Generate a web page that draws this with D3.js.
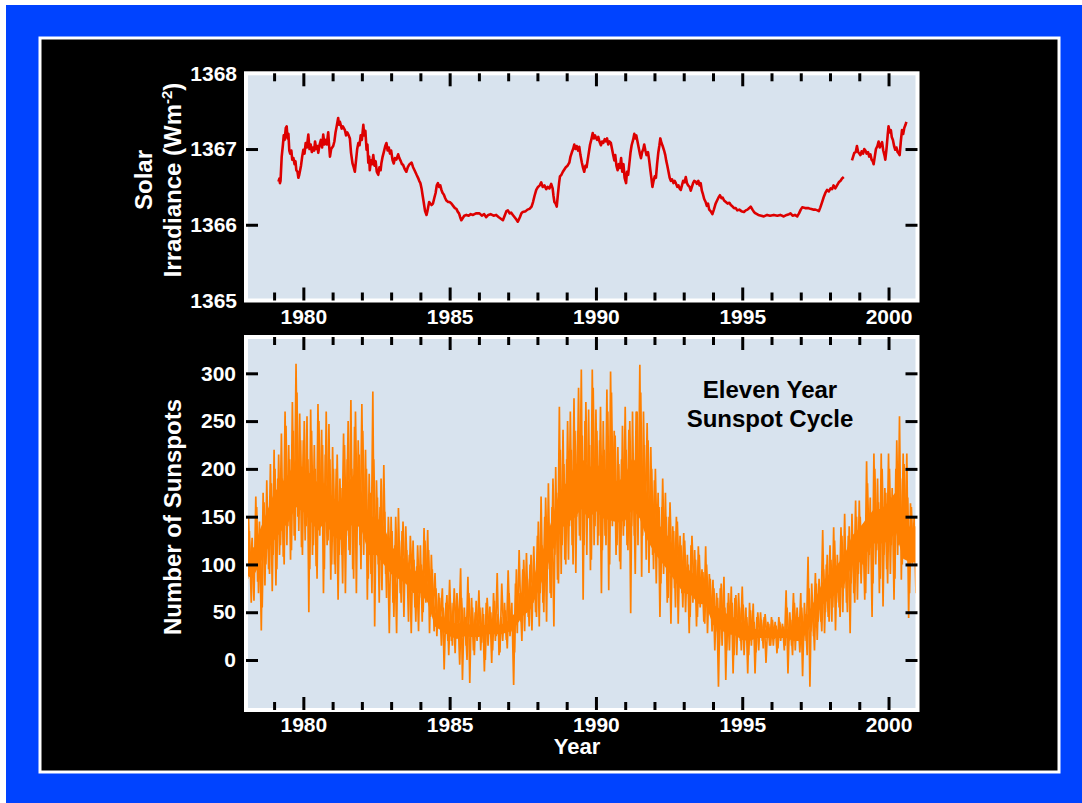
<!DOCTYPE html>
<html>
<head>
<meta charset="utf-8">
<script src="https://d3js.org/d3.v7.min.js"></script>
<style>
  body { margin: 0; background: #fff; }
  text { font-family: "Liberation Sans", Arial, sans-serif; font-weight: bold; }
  .tick line { stroke: #000; stroke-width: 3; }
</style>
</head>
<body>
<div class="chart"></div>
<script>
// Solar irradiance readings [year, W/m^2]; null marks the data gap in 1998
var irradiance = [
  [1979.15, 1366.57], [1979.18, 1366.61], [1979.20, 1366.55], [1979.22, 1366.58], [1979.26, 1366.90],
  [1979.30, 1367.05], [1979.33, 1367.18], [1979.36, 1367.12], [1979.40, 1367.28], [1979.43, 1367.30],
  [1979.46, 1367.14], [1979.49, 1367.20], [1979.52, 1366.98], [1979.55, 1366.94], [1979.59, 1366.98],
  [1979.62, 1366.86], [1979.66, 1366.88], [1979.70, 1366.80], [1979.73, 1366.84], [1979.76, 1366.72],
  [1979.80, 1366.70], [1979.83, 1366.62], [1979.86, 1366.66], [1979.89, 1366.72], [1979.92, 1366.78],
  [1979.96, 1366.90], [1980.00, 1366.99], [1980.04, 1366.94], [1980.08, 1367.08], [1980.12, 1367.02],
  [1980.17, 1367.19], [1980.21, 1367.00], [1980.25, 1367.06], [1980.29, 1366.96], [1980.33, 1367.02],
  [1980.37, 1366.98], [1980.40, 1367.10], [1980.44, 1367.00], [1980.48, 1367.04], [1980.51, 1366.95],
  [1980.55, 1367.05], [1980.60, 1367.12], [1980.64, 1367.02], [1980.68, 1367.19], [1980.72, 1367.06],
  [1980.76, 1367.12], [1980.80, 1367.06], [1980.85, 1367.22], [1980.88, 1367.05], [1980.91, 1366.90],
  [1980.95, 1367.00], [1981.02, 1367.04], [1981.06, 1367.10], [1981.10, 1367.22], [1981.14, 1367.30],
  [1981.19, 1367.41], [1981.22, 1367.32], [1981.25, 1367.36], [1981.31, 1367.27], [1981.35, 1367.30],
  [1981.42, 1367.25], [1981.46, 1367.18], [1981.50, 1367.22], [1981.55, 1367.18], [1981.59, 1367.14],
  [1981.63, 1366.95], [1981.68, 1366.81], [1981.72, 1366.76], [1981.76, 1366.70], [1981.80, 1366.85],
  [1981.84, 1367.00], [1981.88, 1367.08], [1981.92, 1367.05], [1981.96, 1367.18], [1982.00, 1367.12],
  [1982.05, 1367.32], [1982.08, 1367.18], [1982.12, 1367.24], [1982.16, 1366.99], [1982.19, 1367.06],
  [1982.22, 1366.82], [1982.25, 1366.90], [1982.27, 1366.72], [1982.31, 1366.85], [1982.35, 1366.80],
  [1982.39, 1366.92], [1982.43, 1366.78], [1982.47, 1366.84], [1982.51, 1366.70], [1982.56, 1366.66],
  [1982.60, 1366.76], [1982.64, 1366.72], [1982.67, 1366.82], [1982.71, 1366.90], [1982.75, 1366.96],
  [1982.80, 1367.04], [1982.84, 1367.08], [1982.88, 1366.98], [1982.92, 1367.02], [1982.96, 1366.94],
  [1983.00, 1366.98], [1983.05, 1366.85], [1983.09, 1366.81], [1983.13, 1366.88], [1983.18, 1366.86],
  [1983.24, 1366.93], [1983.28, 1366.88], [1983.33, 1366.84], [1983.37, 1366.80], [1983.41, 1366.79],
  [1983.46, 1366.74], [1983.52, 1366.70], [1983.57, 1366.76], [1983.63, 1366.80], [1983.70, 1366.82],
  [1983.75, 1366.76], [1983.80, 1366.72], [1983.87, 1366.66], [1983.92, 1366.62], [1983.96, 1366.58],
  [1984.00, 1366.55], [1984.04, 1366.48], [1984.08, 1366.38], [1984.12, 1366.28], [1984.16, 1366.18],
  [1984.21, 1366.13], [1984.24, 1366.18], [1984.27, 1366.24], [1984.30, 1366.30], [1984.34, 1366.28],
  [1984.38, 1366.26], [1984.43, 1366.28], [1984.48, 1366.36], [1984.52, 1366.42], [1984.56, 1366.52],
  [1984.60, 1366.55], [1984.64, 1366.50], [1984.68, 1366.52], [1984.72, 1366.46], [1984.76, 1366.42],
  [1984.80, 1366.40], [1984.85, 1366.35], [1984.89, 1366.32], [1984.95, 1366.30], [1985.00, 1366.30],
  [1985.06, 1366.28], [1985.12, 1366.25], [1985.18, 1366.22], [1985.23, 1366.21], [1985.28, 1366.17],
  [1985.32, 1366.15], [1985.36, 1366.10], [1985.40, 1366.06], [1985.45, 1366.09], [1985.50, 1366.12],
  [1985.57, 1366.13], [1985.65, 1366.12], [1985.72, 1366.14], [1985.80, 1366.13], [1985.90, 1366.15],
  [1986.02, 1366.15], [1986.10, 1366.12], [1986.18, 1366.14], [1986.25, 1366.10], [1986.32, 1366.13],
  [1986.40, 1366.14], [1986.50, 1366.12], [1986.59, 1366.13], [1986.68, 1366.10], [1986.75, 1366.08],
  [1986.82, 1366.06], [1986.88, 1366.12], [1986.94, 1366.18], [1986.99, 1366.19], [1987.05, 1366.15],
  [1987.10, 1366.16], [1987.16, 1366.13], [1987.22, 1366.10], [1987.28, 1366.07], [1987.33, 1366.04],
  [1987.40, 1366.10], [1987.45, 1366.15], [1987.50, 1366.17], [1987.60, 1366.18], [1987.66, 1366.20],
  [1987.73, 1366.21], [1987.80, 1366.24], [1987.85, 1366.30], [1987.90, 1366.38], [1987.96, 1366.46],
  [1988.02, 1366.50], [1988.08, 1366.52], [1988.13, 1366.56], [1988.18, 1366.50], [1988.24, 1366.52],
  [1988.30, 1366.47], [1988.35, 1366.50], [1988.41, 1366.48], [1988.47, 1366.54], [1988.52, 1366.48],
  [1988.55, 1366.38], [1988.58, 1366.30], [1988.62, 1366.28], [1988.66, 1366.24], [1988.70, 1366.40],
  [1988.74, 1366.55], [1988.77, 1366.64], [1988.82, 1366.66], [1988.87, 1366.70], [1988.92, 1366.73],
  [1988.97, 1366.76], [1989.03, 1366.78], [1989.09, 1366.82], [1989.13, 1366.90], [1989.18, 1366.96],
  [1989.22, 1367.00], [1989.26, 1367.06], [1989.30, 1367.00], [1989.34, 1367.04], [1989.39, 1366.98],
  [1989.43, 1367.03], [1989.47, 1366.92], [1989.52, 1366.82], [1989.56, 1366.75], [1989.60, 1366.70],
  [1989.64, 1366.78], [1989.68, 1366.76], [1989.72, 1366.86], [1989.76, 1366.96], [1989.80, 1367.06],
  [1989.84, 1367.12], [1989.89, 1367.21], [1989.93, 1367.14], [1989.97, 1367.18], [1990.00, 1367.15],
  [1990.04, 1367.12], [1990.08, 1367.16], [1990.12, 1367.10], [1990.17, 1367.05], [1990.21, 1367.10],
  [1990.25, 1367.08], [1990.30, 1367.13], [1990.34, 1367.10], [1990.38, 1367.14], [1990.42, 1367.06],
  [1990.46, 1367.10], [1990.51, 1367.08], [1990.55, 1367.00], [1990.59, 1366.92], [1990.63, 1366.85],
  [1990.66, 1366.92], [1990.70, 1366.78], [1990.74, 1366.72], [1990.78, 1366.80], [1990.82, 1366.75],
  [1990.86, 1366.88], [1990.90, 1366.70], [1990.94, 1366.80], [1990.98, 1366.62], [1991.03, 1366.55],
  [1991.06, 1366.70], [1991.10, 1366.66], [1991.14, 1366.80], [1991.18, 1366.95], [1991.22, 1367.05],
  [1991.27, 1367.12], [1991.31, 1367.20], [1991.35, 1367.14], [1991.38, 1367.18], [1991.42, 1367.10],
  [1991.46, 1367.02], [1991.50, 1366.94], [1991.54, 1366.88], [1991.58, 1366.96], [1991.62, 1367.00],
  [1991.65, 1367.06], [1991.69, 1366.98], [1991.73, 1366.92], [1991.78, 1366.96], [1991.82, 1366.85],
  [1991.86, 1366.72], [1991.90, 1366.60], [1991.93, 1366.50], [1991.97, 1366.58], [1992.01, 1366.64],
  [1992.05, 1366.62], [1992.09, 1366.80], [1992.13, 1366.95], [1992.17, 1367.05], [1992.20, 1367.14],
  [1992.24, 1367.08], [1992.28, 1367.04], [1992.33, 1366.98], [1992.37, 1366.92], [1992.40, 1366.85],
  [1992.44, 1366.78], [1992.48, 1366.70], [1992.52, 1366.62], [1992.56, 1366.58], [1992.60, 1366.60],
  [1992.65, 1366.55], [1992.69, 1366.58], [1992.73, 1366.55], [1992.78, 1366.50], [1992.82, 1366.52],
  [1992.86, 1366.48], [1992.90, 1366.46], [1992.94, 1366.52], [1992.98, 1366.58], [1993.03, 1366.56],
  [1993.07, 1366.63], [1993.11, 1366.55], [1993.15, 1366.52], [1993.20, 1366.50], [1993.24, 1366.45],
  [1993.28, 1366.50], [1993.32, 1366.55], [1993.36, 1366.58], [1993.41, 1366.57], [1993.45, 1366.54],
  [1993.50, 1366.58], [1993.54, 1366.52], [1993.58, 1366.55], [1993.62, 1366.45], [1993.66, 1366.40],
  [1993.70, 1366.34], [1993.75, 1366.30], [1993.79, 1366.25], [1993.83, 1366.28], [1993.87, 1366.20],
  [1993.92, 1366.18], [1993.98, 1366.14], [1994.03, 1366.20], [1994.09, 1366.28], [1994.14, 1366.32],
  [1994.19, 1366.36], [1994.24, 1366.39], [1994.29, 1366.35], [1994.33, 1366.36], [1994.38, 1366.32],
  [1994.44, 1366.30], [1994.50, 1366.28], [1994.56, 1366.29], [1994.61, 1366.26], [1994.67, 1366.24],
  [1994.72, 1366.22], [1994.78, 1366.22], [1994.83, 1366.19], [1994.90, 1366.20], [1994.97, 1366.18],
  [1995.06, 1366.17], [1995.12, 1366.19], [1995.18, 1366.20], [1995.24, 1366.22], [1995.29, 1366.24],
  [1995.35, 1366.20], [1995.40, 1366.17], [1995.46, 1366.15], [1995.55, 1366.13], [1995.65, 1366.12],
  [1995.74, 1366.11], [1995.85, 1366.13], [1995.95, 1366.12], [1996.08, 1366.13], [1996.20, 1366.12],
  [1996.30, 1366.13], [1996.42, 1366.11], [1996.52, 1366.13], [1996.60, 1366.14], [1996.65, 1366.15],
  [1996.72, 1366.12], [1996.80, 1366.13], [1996.88, 1366.11], [1996.94, 1366.15], [1997.00, 1366.20],
  [1997.05, 1366.23], [1997.15, 1366.22], [1997.25, 1366.22], [1997.33, 1366.21], [1997.42, 1366.20],
  [1997.50, 1366.20], [1997.57, 1366.19], [1997.62, 1366.18], [1997.67, 1366.23], [1997.73, 1366.30],
  [1997.78, 1366.36], [1997.84, 1366.42], [1997.90, 1366.46], [1997.96, 1366.44], [1998.02, 1366.48],
  [1998.07, 1366.47], [1998.12, 1366.52], [1998.18, 1366.48], [1998.24, 1366.52], [1998.30, 1366.56],
  [1998.36, 1366.58], [1998.41, 1366.61], [1998.47, 1366.63], [1998.60, null], [1998.75, 1366.85],
  [1998.79, 1366.90], [1998.83, 1366.95], [1998.88, 1366.96], [1998.92, 1367.04], [1998.96, 1366.96],
  [1999.00, 1366.94], [1999.04, 1366.92], [1999.08, 1366.97], [1999.13, 1366.94], [1999.17, 1367.00],
  [1999.21, 1366.98], [1999.25, 1366.94], [1999.30, 1366.96], [1999.34, 1366.90], [1999.38, 1366.93],
  [1999.42, 1366.86], [1999.46, 1366.84], [1999.49, 1366.80], [1999.53, 1366.90], [1999.57, 1367.00],
  [1999.62, 1367.04], [1999.66, 1367.10], [1999.70, 1367.02], [1999.74, 1367.06], [1999.78, 1367.09],
  [1999.82, 1366.98], [1999.86, 1366.92], [1999.89, 1366.86], [1999.93, 1367.00], [1999.97, 1367.18],
  [2000.00, 1367.30], [2000.04, 1367.22], [2000.08, 1367.25], [2000.11, 1367.16], [2000.15, 1367.12],
  [2000.19, 1367.04], [2000.23, 1366.99], [2000.27, 1367.02], [2000.31, 1366.96], [2000.35, 1366.94],
  [2000.38, 1366.92], [2000.42, 1367.10], [2000.46, 1367.25], [2000.50, 1367.20], [2000.54, 1367.28],
  [2000.58, 1367.32], [2000.61, 1367.36]
];

// Sunspot numbers, sixteen readings per year starting at 1978.0 (set A)
var spotStart = 1978;
var spotPerYear = 16;
var sunspotsA = [
  140, 70, 150, 92, 128, 62, 171, 82, 145, 31, 175, 78, 188, 95, 205, 72,
  220, 78, 190, 110, 237, 108, 260, 120, 225, 105, 270, 130, 310, 150, 258, 118,
  230, 125, 255, 50, 262, 110, 225, 98, 268, 130, 241, 70, 215, 120, 247, 84,
  223, 100, 200, 63, 190, 110, 237, 70, 210, 115, 272, 95, 244, 70, 230, 120,
  268, 110, 220, 63, 195, 90, 281, 35, 188, 100, 160, 73, 204, 90, 126, 28,
  150, 60, 120, 28, 159, 70, 135, 45, 140, 80, 110, 28, 125, 55, 98, 30,
  120, 40, 138, 60, 136, 28, 110, 50, 91, 25, 70, 40, 75, -10, 60, 20,
  84, 20, 60, 7, 70, 30, 96, -21, 55, 15, 87, -24, 65, 10, 50, 20,
  73, 10, 55, -12, 60, 15, 56, -3, 70, 20, 91, 5, 45, 20, 60, 21,
  94, 25, 60, -26, 80, 28, 115, 40, 95, 30, 112, 45, 100, 31, 119, 50,
  130, 35, 171, 60, 150, 40, 185, 70, 160, 35, 202, 84, 265, 90, 241, 105,
  210, 105, 260, 120, 274, 91, 240, 130, 304, 63, 250, 110, 262, 94, 304, 120,
  262, 120, 230, 70, 250, 130, 283, 73, 302, 140, 240, 110, 223, 103, 210, 130,
  265, 120, 241, 49, 260, 130, 260, 120, 309, 87, 260, 140, 248, 91, 223, 110,
  188, 80, 175, 45, 160, 90, 175, 60, 150, 38, 140, 75, 150, 38, 130, 70,
  133, 50, 110, 28, 120, 60, 115, 35, 119, 55, 95, 40, 119, 28, 90, 45,
  84, 10, 70, -28, 75, 15, 87, -21, 60, 10, 77, -14, 65, 5, 70, 20,
  77, 5, 55, -14, 60, 15, 59, -14, 45, 10, 50, 20, 45, -3, 40, 15,
  45, 15, 40, 7, 45, 20, 38, 10, 73, -14, 50, 15, 70, 10, 55, 20,
  70, -17, 60, 20, 108, -28, 80, 25, 91, 21, 85, 40, 136, 28, 100, 45,
  120, 40, 139, 31, 110, 55, 139, 50, 153, 60, 130, 28, 153, 70, 167, 63,
  167, 80, 140, 63, 208, 90, 170, 45, 216, 100, 190, 70, 216, 56, 180, 95,
  216, 90, 180, 63, 200, 110, 255, 84, 216, 120, 216, 44, 164, 100, 150, 70
];

// second set of sunspot readings, half a step later than set A
var sunspotsB = [
  125, 85, 135, 60, 118, 95, 160, 70, 120, 55, 165, 100, 150, 90, 185, 110,
  200, 95, 215, 120, 190, 100, 245, 140, 210, 115, 240, 125, 280, 135, 230, 110,
  250, 140, 210, 95, 240, 120, 200, 85, 250, 145, 225, 95, 260, 125, 210, 100,
  200, 90, 215, 110, 180, 80, 225, 130, 250, 110, 200, 85, 260, 140, 215, 95,
  240, 130, 200, 85, 175, 70, 210, 120, 170, 60, 190, 110, 155, 65, 150, 95,
  135, 45, 150, 85, 125, 60, 145, 80, 115, 40, 130, 85, 105, 40, 120, 65,
  100, 50, 125, 75, 115, 45, 95, 30, 75, 35, 65, 15, 55, 30, 68, 5,
  60, 15, 75, 35, 50, -5, 65, 25, 45, 0, 70, 30, 55, 5, 62, 28,
  55, 18, 48, 0, 65, 30, 50, 10, 62, 25, 48, 8, 80, 30, 52, 12,
  70, 30, 45, 8, 95, 40, 70, 20, 105, 50, 85, 35, 110, 60, 90, 45,
  145, 70, 120, 50, 170, 95, 140, 65, 190, 110, 175, 80, 220, 120, 205, 100,
  250, 140, 220, 100, 240, 150, 285, 125, 235, 120, 270, 155, 225, 105, 285, 140,
  240, 130, 265, 115, 220, 120, 260, 100, 280, 150, 235, 120, 205, 95, 245, 140,
  220, 115, 250, 140, 200, 90, 260, 150, 280, 130, 225, 105, 230, 130, 200, 95,
  200, 110, 160, 80, 190, 100, 150, 65, 165, 95, 135, 55, 145, 85, 120, 55,
  125, 70, 100, 45, 130, 80, 105, 45, 110, 60, 92, 38, 100, 55, 85, 30,
  75, 30, 65, 15, 80, 35, 55, 10, 70, 30, 60, 5, 68, 28, 55, 10,
  58, 25, 45, 5, 52, 22, 40, 8, 50, 25, 42, 12, 48, 25, 38, 15,
  42, 22, 36, 12, 40, 24, 35, 15, 55, 20, 42, 5, 60, 25, 45, 8,
  55, 20, 48, 5, 75, 30, 60, 10, 80, 40, 70, 30, 95, 50, 110, 40,
  105, 55, 125, 60, 100, 45, 130, 75, 115, 50, 140, 80, 125, 60, 150, 90,
  150, 100, 130, 70, 185, 110, 150, 80, 200, 115, 165, 85, 200, 110, 175, 80,
  200, 120, 170, 85, 230, 120, 190, 100, 205, 130, 170, 70, 160, 105, 140, 85
];

// dense core of the daily sunspot band, four readings per year from 1978.0 to 2001.0
var spotCorePerYear = 4;
var spotCoreLo = [
  90, 85, 100, 115,  125, 135, 145, 160,  155, 145, 135, 145,  130, 125, 135, 145,
  135, 110, 110, 100,  90, 85, 80, 70,  70, 60, 35, 30,  25, 22, 25, 24,
  24, 27, 27, 27,  29, 35, 46, 52,  70, 90, 112, 134,  144, 148, 158, 148,
  156, 148, 146, 144,  146, 158, 148, 126,  112, 102, 92, 80,  70, 68, 59, 58,
  37, 32, 27, 26,  21, 20, 23, 23,  23, 23, 23, 20,  20, 31, 46, 58,
  64, 70, 80, 100,  102, 112, 122, 122,  124, 134, 106, 102,  102
];
var spotCoreHi = [
  120, 110, 135, 155,  175, 185, 195, 210,  200, 195, 185, 185,  170, 165, 185, 195,
  175, 150, 150, 140,  120, 110, 105, 90,  100, 80, 50, 45,  40, 38, 40, 36,
  36, 37, 37, 37,  41, 50, 64, 73,  100, 120, 148, 176,  186, 202, 212, 202,
  204, 202, 194, 186,  194, 212, 202, 174,  148, 138, 128, 110,  100, 92, 86, 82,
  58, 53, 48, 44,  39, 35, 32, 32,  32, 32, 32, 35,  35, 49, 64, 82,
  91, 100, 110, 130,  138, 148, 158, 158,  166, 176, 154, 138,  138
];

// tick values
var majorYears = [1980, 1985, 1990, 1995, 2000];
var minorYears = d3.range(1979, 2001).filter(function(d) { return d % 5 !== 0; });
var irrTicks = [1365, 1366, 1367, 1368];
var spotTicks = [0, 50, 100, 150, 200, 250, 300];

var svgWidth = 1082;
var svgHeight = 803;

var svg = d3.select(".chart")
  .append("svg")
  .attr("width", svgWidth)
  .attr("height", svgHeight);

// blue slide background with black panel
svg.append("rect")
  .attr("x", 6).attr("y", 5)
  .attr("width", svgWidth - 6).attr("height", svgHeight - 5)
  .attr("fill", "#0043ff");

svg.append("rect")
  .attr("x", 40).attr("y", 38)
  .attr("width", 1019).attr("height", 734)
  .attr("fill", "#000")
  .attr("stroke", "#fff")
  .attr("stroke-width", 3);

var left = 246, right = 917.5;
var xScale = d3.scaleLinear().domain([1978.04, 2000.99]).range([left, right]);

var top1 = 73.3, bottom1 = 300.5;
var top2 = 337, bottom2 = 710;
var yIrr = d3.scaleLinear().domain([1365, 1368]).range([bottom1, top1]);
var ySpot = d3.scaleLinear().domain([-52.3, 338]).range([bottom2, top2]);

function drawPanel(name, yTop, yBottom) {
  var g = svg.append("g").attr("class", name);
  g.append("rect")
    .attr("x", left).attr("y", yTop)
    .attr("width", right - left).attr("height", yBottom - yTop)
    .attr("fill", "#d8e3ee");
  g.append("clipPath").attr("id", "clip-" + name)
    .append("rect")
    .attr("x", left).attr("y", yTop)
    .attr("width", right - left).attr("height", yBottom - yTop);
  return g;
}

function drawFrame(g, yTop, yBottom) {
  g.append("rect")
    .attr("x", left).attr("y", yTop)
    .attr("width", right - left).attr("height", yBottom - yTop)
    .attr("fill", "none")
    .attr("stroke", "#fff")
    .attr("stroke-width", 4);
}

function drawXTicks(g, yTop, yBottom, labelPad) {
  // minor ticks, top and bottom
  g.append("g").attr("transform", "translate(0," + yBottom + ")")
    .call(d3.axisBottom(xScale).tickValues(minorYears).tickSize(-8).tickFormat(""));
  g.append("g").attr("transform", "translate(0," + yTop + ")")
    .call(d3.axisTop(xScale).tickValues(minorYears).tickSize(-8).tickFormat(""));
  // major ticks, labelled at the bottom
  g.append("g").attr("class", "xlab").attr("transform", "translate(0," + yBottom + ")")
    .call(d3.axisBottom(xScale).tickValues(majorYears).tickSize(-13).tickPadding(labelPad).tickFormat(d3.format("d")));
  g.append("g").attr("transform", "translate(0," + yTop + ")")
    .call(d3.axisTop(xScale).tickValues(majorYears).tickSize(-13).tickFormat(""));
}

function drawYTicks(g, scale, ticks, pad) {
  g.append("g").attr("class", "ylab").attr("transform", "translate(" + left + ",0)")
    .call(d3.axisLeft(scale).tickValues(ticks).tickSize(-12).tickPadding(pad).tickFormat(d3.format("d")));
  g.append("g").attr("transform", "translate(" + right + ",0)")
    .call(d3.axisRight(scale).tickValues(ticks).tickSize(-12).tickFormat(""));
}

// ---- top panel: solar irradiance
var p1 = drawPanel("irr", top1, bottom1);
var irrLine = d3.line()
  .defined(function(d) { return d[1] !== null; })
  .x(function(d) { return xScale(d[0]); })
  .y(function(d) { return yIrr(d[1]); });

p1.append("path")
  .datum(irradiance)
  .attr("clip-path", "url(#clip-irr)")
  .attr("d", irrLine)
  .attr("fill", "none")
  .attr("stroke", "#dd0000")
  .attr("stroke-width", 2.6)
  .attr("stroke-linejoin", "round");

drawFrame(p1, top1, bottom1);
drawXTicks(p1, top1, bottom1, 9);
drawYTicks(p1, yIrr, irrTicks, 9);
// no tick marks at the frame corners
p1.selectAll(".tick line").filter(function(d) { return d === 1365 || d === 1368; }).remove();

// ---- bottom panel: sunspots
var p2 = drawPanel("spot", top2, bottom2);

var coreArea = d3.area()
  .x(function(d) { return xScale(spotStart + d / spotCorePerYear); })
  .y0(function(d) { return ySpot(spotCoreLo[d]); })
  .y1(function(d) { return ySpot(spotCoreHi[d]); });

p2.append("path")
  .datum(d3.range(spotCoreLo.length))
  .attr("clip-path", "url(#clip-spot)")
  .attr("d", coreArea)
  .attr("fill", "#ff8000");

function spotLine(offset) {
  return d3.line()
    .x(function(d, i) { return xScale(spotStart + (i + offset) / spotPerYear); })
    .y(function(d) { return ySpot(d); });
}

[[sunspotsA, 0], [sunspotsB, 0.5]].forEach(function(s) {
  p2.append("path")
    .datum(s[0])
    .attr("clip-path", "url(#clip-spot)")
    .attr("d", spotLine(s[1]))
    .attr("fill", "none")
    .attr("stroke", "#ff8000")
    .attr("stroke-width", 1.7);
});

drawFrame(p2, top2, bottom2);
drawXTicks(p2, top2, bottom2, 7);
drawYTicks(p2, ySpot, spotTicks, 10);

// axis cleanup and label styling
svg.selectAll(".domain").remove();
svg.selectAll(".xlab text, .ylab text")
  .attr("fill", "#fff")
  .style("font-size", "21px")
  .style("font-family", "'Liberation Sans', Arial, sans-serif")
  .style("font-weight", "bold");

// axis titles
svg.append("text")
  .attr("transform", "translate(152,180) rotate(-90)")
  .attr("text-anchor", "middle")
  .attr("fill", "#fff")
  .style("font-size", "24px")
  .text("Solar");

var irrTitle = svg.append("text")
  .attr("transform", "translate(181,180) rotate(-90)")
  .attr("text-anchor", "middle")
  .attr("fill", "#fff")
  .style("font-size", "24px");
irrTitle.append("tspan").text("Irradiance (Wm");
irrTitle.append("tspan").attr("dy", -9).style("font-size", "15px").text("-2");
irrTitle.append("tspan").attr("dy", 9).text(")");

svg.append("text")
  .attr("transform", "translate(181,517) rotate(-90)")
  .attr("text-anchor", "middle")
  .attr("fill", "#fff")
  .style("font-size", "24px")
  .text("Number of Sunspots");

svg.append("text")
  .attr("x", 577).attr("y", 754)
  .attr("text-anchor", "middle")
  .attr("fill", "#fff")
  .style("font-size", "22px")
  .text("Year");

// annotation
svg.append("text")
  .attr("x", 770).attr("y", 398)
  .attr("text-anchor", "middle")
  .attr("fill", "#000")
  .style("font-size", "24px")
  .text("Eleven Year");
svg.append("text")
  .attr("x", 770).attr("y", 427)
  .attr("text-anchor", "middle")
  .attr("fill", "#000")
  .style("font-size", "24px")
  .text("Sunspot Cycle");
</script>
</body>
</html>
